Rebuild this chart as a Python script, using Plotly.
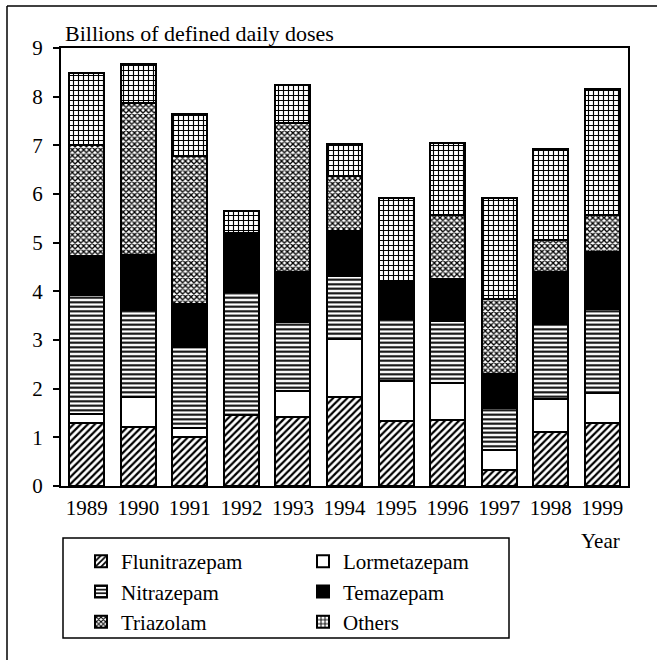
import plotly.graph_objects as go

years = ["1989", "1990", "1991", "1992", "1993", "1994", "1995", "1996", "1997", "1998", "1999"]
flunitrazepam = [1.30, 1.22, 1.01, 1.46, 1.42, 1.82, 1.34, 1.35, 0.32, 1.10, 1.30]
lormetazepam  = [0.18, 0.60, 0.19, 0.00, 0.54, 1.20, 0.82, 0.76, 0.41, 0.69, 0.62]
nitrazepam    = [2.45, 1.79, 1.65, 2.52, 1.41, 1.29, 1.27, 1.29, 0.88, 1.54, 1.72]
temazepam     = [0.80, 1.14, 0.89, 1.22, 1.03, 0.93, 0.76, 0.86, 0.69, 1.07, 1.17]
triazolam     = [2.27, 3.13, 3.04, 0.00, 3.05, 1.13, 0.00, 1.30, 1.55, 0.65, 0.75]
others        = [1.48, 0.79, 0.86, 0.45, 0.78, 0.66, 1.73, 1.49, 2.07, 1.87, 2.60]

y_title = "Billions of defined daily doses"
x_title = "Year"

FONT = "Liberation Serif"

series = [
    ("Flunitrazepam", flunitrazepam, dict(shape="/", size=5, solidity=0.45)),
    ("Lormetazepam", lormetazepam, None),
    ("Nitrazepam", nitrazepam, dict(shape="-", size=4.5, solidity=0.45)),
    ("Temazepam", temazepam, "solid"),
    ("Triazolam", triazolam, dict(shape="x", size=4, solidity=0.55)),
    ("Others", others, dict(shape="+", size=5, solidity=0.4)),
]

fig = go.Figure()
for name, vals, pat in series:
    marker = dict(line=dict(color="black", width=2))
    if pat == "solid":
        marker["color"] = "black"
    else:
        marker["color"] = "white"
        if pat is not None:
            p = dict(pat)
            p.update(fgcolor="black", bgcolor="white", fillmode="replace")
            marker["pattern"] = p
    fig.add_trace(go.Bar(x=years, y=vals, name=name, marker=marker, width=0.68))

W, H = 657, 660
L, R, T, B = 61, 29, 48, 174
pw, ph = W - L - R, H - T - B

def px_x(x):
    return (x - L) / pw

def px_y(y):
    return (H - B - y) / ph

fig.update_layout(
    width=W, height=H,
    margin=dict(l=L, r=R, t=T, b=B, pad=0),
    barmode="stack",
    plot_bgcolor="white",
    paper_bgcolor="white",
    font=dict(family=FONT, size=21, color="black"),
    showlegend=True,
    legend=dict(
        orientation="h",
        traceorder="normal",
        entrywidth=177, entrywidthmode="pixels",
        x=px_x(81), xanchor="left",
        y=px_y(541), yanchor="top",
        bgcolor="rgba(0,0,0,0)",
        borderwidth=0,
        font=dict(family=FONT, size=21, color="black"),
        tracegroupgap=0,
    ),
    xaxis=dict(
        showgrid=False, ticks="", showline=True, linecolor="black", linewidth=2,
        mirror=True, tickfont=dict(family=FONT, size=21), ticklabelstandoff=2,
    ),
    yaxis=dict(
        range=[0, 9], dtick=1, showgrid=False, zeroline=False,
        ticks="outside", ticklen=6, tickwidth=1.5, tickcolor="black",
        showline=True, linecolor="black", linewidth=2, mirror=True,
        tickfont=dict(family=FONT, size=21), ticklabelstandoff=6,
    ),
    annotations=[
        dict(text=y_title, xref="paper", yref="paper", x=px_x(63), y=px_y(34),
             xanchor="left", yanchor="middle", showarrow=False,
             font=dict(family=FONT, size=22)),
        dict(text=x_title, xref="paper", yref="paper", x=px_x(622), y=px_y(541),
             xanchor="right", yanchor="middle", showarrow=False,
             font=dict(family=FONT, size=21)),
    ],
    shapes=[
        dict(type="rect", xref="paper", yref="paper",
             x0=px_x(63), x1=px_x(509), y0=px_y(638), y1=px_y(538),
             line=dict(color="black", width=1.5), fillcolor="rgba(0,0,0,0)"),
        dict(type="line", xref="paper", yref="paper",
             x0=px_x(7), x1=px_x(700), y0=px_y(6), y1=px_y(6),
             line=dict(color="black", width=1.5)),
        dict(type="line", xref="paper", yref="paper",
             x0=px_x(7), x1=px_x(7), y0=px_y(6), y1=px_y(700),
             line=dict(color="black", width=1.5)),
    ],
)

fig.write_html("out.html", config={"displayModeBar": False},
               post_script="document.body.style.margin='0';")
